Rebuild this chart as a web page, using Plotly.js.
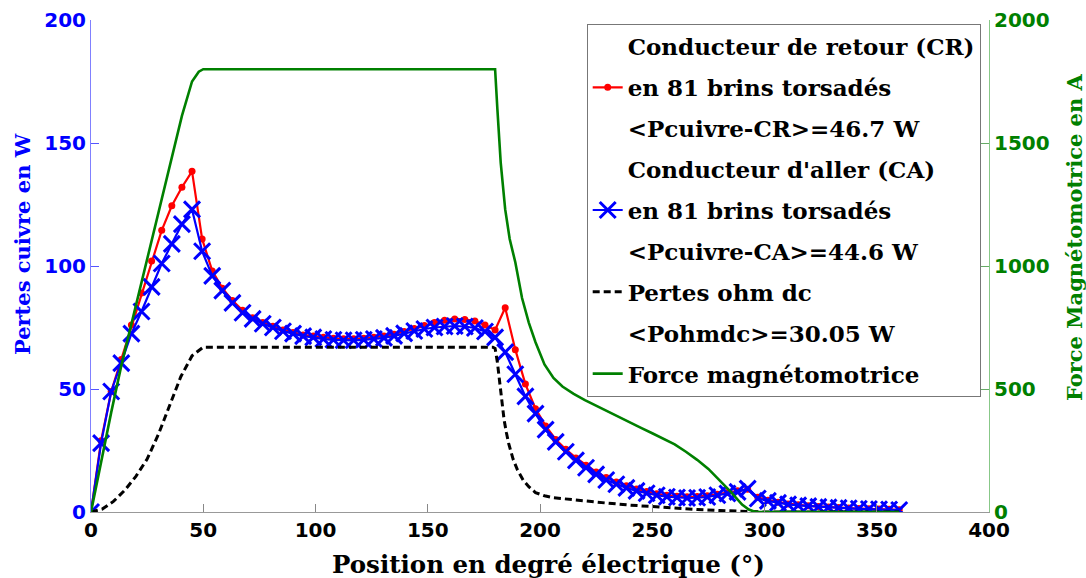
<!DOCTYPE html>
<html>
<head>
<meta charset="utf-8">
<script src="https://cdn.plot.ly/plotly-3.0.1.min.js"></script>
<style>html,body{margin:0;padding:0;background:#fff;}#chart{width:1086px;height:578px;}</style>
</head>
<body>
<div id="chart"></div>
<script>
// Position (electrical degrees) for the strand-loss series
var positionDeg = [0,4.5,9,13.5,18,22.5,27,31.5,36,40.5,45,49.5,54,58.5,63,67.5,72,76.5,81,85.5,90,94.5,99,103.5,108,112.5,117,121.5,126,130.5,135,139.5,144,148.5,153,157.5,162,166.5,171,175.5,180,184.5,189,193.5,198,202.5,207,211.5,216,220.5,225,229.5,234,238.5,243,247.5,252,256.5,261,265.5,270,274.5,279,283.5,288,292.5,297,301.5,306,310.5,315,319.5,324,328.5,333,337.5,342,346.5,351,355.5,360];

// Copper losses, return conductor (CR), W
var pertesCR = [0,29,49,62,76,89,102,114.5,124.5,132,138.5,111,98,91,86,82,79,77,75.5,74,73,72,71.5,71,70.6,70.4,70.4,70.6,71,71.5,72.3,73.4,74.6,75.8,77,77.9,78.5,78.3,77.6,76,74,83,66,52,42,35,29.5,25.5,22,19,16.3,14,12.2,10.7,9.4,8.3,7.4,6.8,6.4,6.2,6.3,6.6,7.2,7.9,8.6,9.2,6,4.8,4,3.3,2.9,2.5,2.2,2,1.8,1.6,1.4,1.3,1.2,1.1,0.9];

// Copper losses, go conductor (CA), W
var pertesCA = [0,28,49,60.5,72.5,81.5,91.5,101,109,117,123,106,96,90,85,81,78.5,76.5,75,73.5,72.5,71.5,71,70.3,70,69.8,69.8,70,70.3,70.8,71.6,72.6,73.6,74.4,75,75.4,75.6,75.4,74.8,73.4,71,65,56,47,40,33.5,28.5,24.5,21,18,15.3,13,11.3,9.8,8.6,7.6,6.8,6.2,5.9,5.7,5.8,6.1,6.8,7.5,8.2,9.5,5.5,4.5,3.7,3.1,2.7,2.4,2.1,1.9,1.7,1.5,1.3,1.2,1.1,1.0,0.8];

// DC ohmic losses, W
var dcPosition = [0,5,10,15,20,25,30,35,40,45,50,179,180,181,182,183,184,185,186,188,190,192.5,195,198,202,206,210,220,230,240,250,260,270,280,290,295,300,360];
var pertesDC = [0,1.2,4.3,8.8,14.5,21.5,31.5,43,55,63.5,67,67,66.5,61,53,44,37.5,32.4,28,21.5,17,13,10.3,7.9,6.6,5.8,5.4,4.5,3.6,2.8,2.1,1.5,1.0,0.6,0.2,0.05,0,0];

// Magnetomotive force, A
var mmfPosition = [0,4.5,9,13.5,18,22.5,27,31.5,36,40.5,45,48,50,180,181,182.5,184.5,186.5,189,192,195,198,202,206,210,215,220,225,230,235,240,245,250,255,260,265,270,275,280,285,290,293,296,300,360];
var forceMMF = [0,205,405,595,765,935,1105,1275,1445,1610,1750,1790,1800,1800,1640,1420,1230,1110,1015,870,770,690,600,545,510,480,455,432,410,388,362,342,320,298,275,245,212,175,130,82,30,10,0,0,0];

// Texts
var titleX = 'Position en degré électrique (°)';
var titleY = 'Pertes cuivre en W';
var titleY2 = 'Force Magnétomotrice en A';
var legendCR = ['Conducteur de retour (CR)', 'en 81 brins torsadés', '&lt;Pcuivre-CR&gt;=46.7 W'];
var legendCA = ['Conducteur d\'aller (CA)', 'en 81 brins torsadés', '&lt;Pcuivre-CA&gt;=44.6 W'];
var legendDC = ['Pertes ohm dc', '&lt;Pohmdc&gt;=30.05 W'];
var legendMMF = 'Force magnétomotrice';

function dummy(name, g) {
  return {x:[null], y:[null], type:'scatter', mode:'lines', line:{width:0, color:'rgba(0,0,0,0)'},
          name:name, legendgroup:g, hoverinfo:'skip'};
}

var traces = [
  dummy(legendCR[0], 'g1'),
  {x:positionDeg, y:pertesCR, type:'scatter', mode:'lines+markers', name:legendCR[1], legendgroup:'g2',
   line:{color:'#ff0000', width:2.2}, marker:{symbol:'circle', size:7, color:'#ff0000'}},
  dummy(legendCR[2], 'g3'),
  dummy(legendCA[0], 'g4'),
  {x:positionDeg, y:pertesCA, type:'scatter', mode:'lines+markers', name:legendCA[1], legendgroup:'g5',
   line:{color:'#0000ff', width:2.2}, marker:{symbol:'x-thin-open', size:16, color:'#0000ff', line:{width:3, color:'#0000ff'}}},
  dummy(legendCA[2], 'g6'),
  {x:dcPosition, y:pertesDC, type:'scatter', mode:'lines', name:legendDC[0], legendgroup:'g7',
   line:{color:'#000000', width:3, dash:'7px,4px'}},
  dummy(legendDC[1], 'g8'),
  {x:mmfPosition, y:forceMMF, type:'scatter', mode:'lines', name:legendMMF, legendgroup:'g9', yaxis:'y2',
   line:{color:'#008000', width:2.6}}
];

var tickFont = {family:'DejaVu Sans', size:20, weight:'bold'};

var layout = {
  width:1086, height:578,
  margin:{l:91, r:97, t:20, b:66, pad:0},
  paper_bgcolor:'#ffffff', plot_bgcolor:'#ffffff',
  showlegend:true,
  xaxis:{range:[0,400], tick0:0, dtick:50, ticks:'inside', ticklen:8, tickcolor:'#888888',
         showline:true, linecolor:'#999999', linewidth:1, showgrid:false, zeroline:false,
         tickfont:Object.assign({color:'#000000'}, tickFont)},
  yaxis:{range:[0,200], tick0:0, dtick:50, ticks:'inside', ticklen:8, tickcolor:'#5555ff',
         showline:true, linecolor:'#8080ff', linewidth:1, showgrid:false, zeroline:false,
         tickfont:Object.assign({color:'#0000ff'}, tickFont)},
  yaxis2:{range:[0,2000], tick0:0, dtick:500, overlaying:'y', side:'right', ticks:'inside', ticklen:8,
          tickcolor:'#66aa66', showline:true, linecolor:'#88c888', linewidth:1, showgrid:false, zeroline:false,
          tickfont:Object.assign({color:'#008000'}, tickFont)},
  legend:{x:0.552, y:0.992, xanchor:'left', yanchor:'top', bgcolor:'#ffffff', bordercolor:'#777777', borderwidth:1,
          font:{family:'DejaVu Serif', size:23, weight:'bold', color:'#000000'},
          traceorder:'grouped', tracegroupgap:8, itemwidth:30},
  annotations:[
    {text:titleX, xref:'paper', yref:'paper', x:0.51, y:-0.1077, xanchor:'center', yanchor:'middle', showarrow:false,
     font:{family:'DejaVu Serif', size:24.5, weight:'bold', color:'#000000'}},
    {text:titleY, xref:'paper', yref:'paper', x:-0.0768, y:0.5447, xanchor:'center', yanchor:'middle', showarrow:false, textangle:-90,
     font:{family:'DejaVu Serif', size:21, weight:'bold', color:'#0000ff'}},
    {text:titleY2, xref:'paper', yref:'paper', x:1.0958, y:0.559, xanchor:'center', yanchor:'middle', showarrow:false, textangle:-90,
     font:{family:'DejaVu Serif', size:21, weight:'bold', color:'#008000'}}
  ]
};

Plotly.newPlot('chart', traces, layout, {displayModeBar:false, staticPlot:true});
</script>
</body>
</html>
